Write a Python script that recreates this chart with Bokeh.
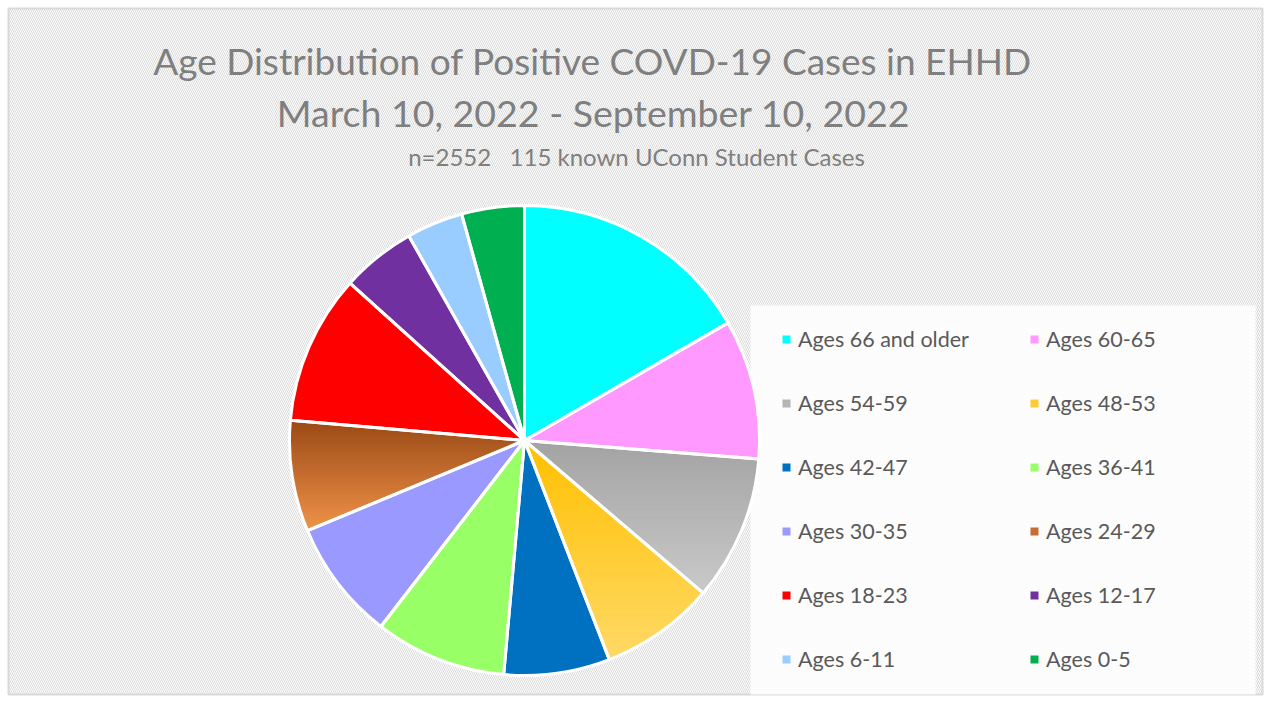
import numpy as np
from bokeh.plotting import figure
from bokeh.models import ColumnDataSource, Range1d, Legend, LegendItem, Label
from bokeh.embed import file_html
from bokeh.resources import INLINE

# ---------------- data ----------------
labels = ["Ages 66 and older", "Ages 60-65", "Ages 54-59", "Ages 48-53",
          "Ages 42-47", "Ages 36-41", "Ages 30-35", "Ages 24-29",
          "Ages 18-23", "Ages 12-17", "Ages 6-11", "Ages 0-5"]
cases = [425, 245, 255, 201, 186, 231, 211, 195, 263, 131, 99, 110]
colors = ["#00FFFF", "#FF99FF", "#B5B5B5", "#FFCC33",
          "#0070C0", "#99FF66", "#9999FF", "#C46E30",
          "#FF0000", "#7030A0", "#99CCFF", "#00B050"]
# vertical gradients (top colour, bottom colour) for some slices
gradients = {"Ages 54-59": ("#A3A3A3", "#C9C9C9"),
             "Ages 48-53": ("#FFC000", "#FFD966"),
             "Ages 24-29": ("#9A4915", "#F0934A")}

title1 = "Age Distribution of Positive COVD-19 Cases in EHHD"
title2 = "March 10, 2022 - September 10, 2022"
title3 = "n=2552\u00a0\u00a0\u00a0115 known UConn Student Cases"

# ---------------- layout ----------------
W, H = 1264, 697
CX, CY, R = 524, 257, 235
FONT = "Lato"

vals = np.array(cases, dtype=float)
frac = vals / vals.sum()
cum_end = np.cumsum(frac)
cum_start = cum_end - frac
start_ang = np.pi / 2 - 2 * np.pi * cum_end
end_ang = np.pi / 2 - 2 * np.pi * cum_start

src = ColumnDataSource(dict(label=labels, cases=cases, color=colors,
                            start=start_ang, end=end_ang))

p = figure(width=W, height=H, output_backend="svg", toolbar_location=None,
           x_range=Range1d(0, W), y_range=Range1d(0, H), min_border=0)
p.axis.visible = False
p.grid.visible = False
p.outline_line_color = None
p.background_fill_color = "white"
p.border_fill_color = "white"

# hatched chart background with border
p.quad(left=8, right=1262, bottom=3, top=689, fill_color="white",
       line_color="#D9D9D9", line_width=2,
       hatch_pattern="left_diagonal_line", hatch_color="#D9D9D9",
       hatch_scale=4, hatch_weight=1.0)

# legend area box
p.quad(left=750, right=1255, bottom=3, top=392, fill_color="white",
       fill_alpha=0.85, line_alpha=0)

# base wedges
base = p.wedge(x=CX, y=CY, radius=R, start_angle="start", end_angle="end",
               fill_color="color", line_alpha=0, source=src)


# gradient overlays
def clip(poly, y0, keep_above):
    out = []
    n = len(poly)
    for i in range(n):
        a = poly[i]
        b = poly[(i + 1) % n]
        ina = a[1] >= y0 if keep_above else a[1] <= y0
        inb = b[1] >= y0 if keep_above else b[1] <= y0
        if ina:
            out.append(a)
        if ina != inb:
            t = (y0 - a[1]) / (b[1] - a[1])
            out.append((a[0] + t * (b[0] - a[0]), y0))
    return out


def mix(c1, c2, t):
    a = [int(c1[i:i + 2], 16) for i in (1, 3, 5)]
    b = [int(c2[i:i + 2], 16) for i in (1, 3, 5)]
    return "#%02x%02x%02x" % tuple(int(round(a[k] + (b[k] - a[k]) * t)) for k in range(3))


gx, gy, gc = [], [], []
for i, lab in enumerate(labels):
    if lab not in gradients:
        continue
    top_c, bot_c = gradients[lab]
    th = np.linspace(end_ang[i], start_ang[i], 80)
    poly = [(CX, CY)] + [(CX + R * np.cos(t), CY + R * np.sin(t)) for t in th]
    ys = [q[1] for q in poly]
    ymin, ymax = min(ys), max(ys)
    nb = 40
    edges = np.linspace(ymax, ymin, nb + 1)
    for k in range(nb):
        hi, lo = edges[k], edges[k + 1]
        piece = clip(clip(poly, lo, True), hi, False)
        if len(piece) < 3:
            continue
        col = mix(top_c, bot_c, (k + 0.5) / nb)
        gx.append([q[0] for q in piece])
        gy.append([q[1] for q in piece])
        gc.append(col)

p.patches(xs=gx, ys=gy, fill_color=gc, line_color=gc, line_width=1)

# white separators
p.wedge(x=CX, y=CY, radius=R, start_angle="start", end_angle="end",
        fill_alpha=0, line_color="white", line_width=3, source=src)

# titles
p.add_layout(Label(x=592, y=637, text=title1, text_align="center",
                   text_baseline="alphabetic", text_font=FONT,
                   text_font_size="37px", text_color="#7F7F7F"))
p.add_layout(Label(x=593, y=585, text=title2, text_align="center",
                   text_baseline="alphabetic", text_font=FONT,
                   text_font_size="37.5px", text_color="#7F7F7F"))
p.add_layout(Label(x=636, y=541, text=title3, text_align="center",
                   text_baseline="alphabetic", text_font=FONT,
                   text_font_size="24px", text_color="#7F7F7F"))

# legend: two columns, row-major reading order
order = [0, 2, 4, 6, 8, 10, 1, 3, 5, 7, 9, 11]
items = [LegendItem(label=labels[i], renderers=[base], index=i) for i in order]
legend = Legend(items=items, ncols=2, location=(781, 25),
                glyph_width=10, glyph_height=10, label_standoff=7,
                label_width=193, label_height=20, spacing=38,
                label_text_font=FONT, label_text_font_size="21.5px",
                label_text_color="#595959", padding=0, margin=0,
                background_fill_alpha=0, border_line_alpha=0)
p.add_layout(legend)

open("out.html", "w").write(file_html(p, INLINE))
